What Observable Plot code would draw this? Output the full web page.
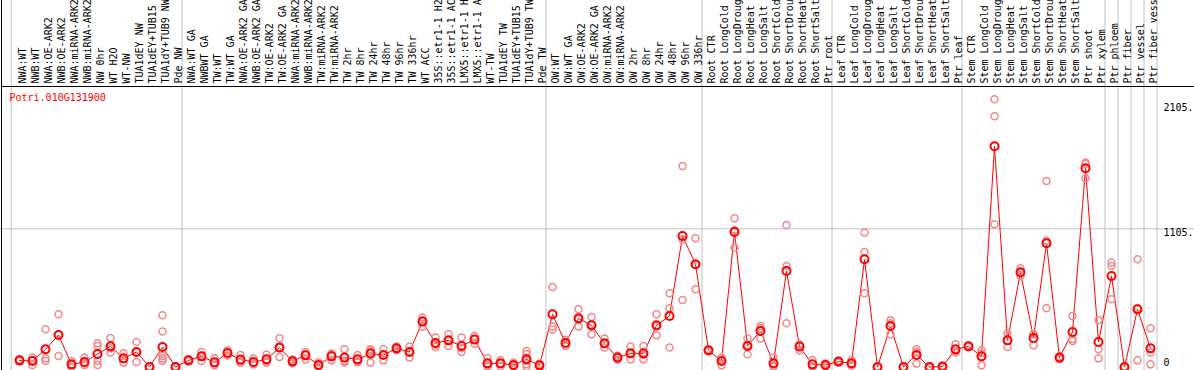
<!DOCTYPE html>
<html><head><meta charset="utf-8">
<script src="https://cdn.jsdelivr.net/npm/d3@7"></script>
<script src="https://cdn.jsdelivr.net/npm/@observablehq/plot@0.6"></script>
<style>body{margin:0;background:#fff} #chart svg{display:block}</style>
</head><body><div id="chart"></div>
<script>
const geneId = "Potri.010G131900";

const labels = [
  "NWA:WT","NWB:WT","NWA:OE-ARK2","NWB:OE-ARK2","NWA:miRNA-ARK2","NWB:miRNA-ARK2","NW 0hr","WT H2O","WT-NW","TUA1dEY NW","TUA1dEY+TUB15","TUA1dY+TUB9 NW","Pde NW",
  "NWA:WT GA","NWBWT GA","TW:WT","TW:WT GA","NWA:OE-ARK2 GA","NWB:OE-ARK2 GA","TW:OE-ARK2","TW:OE-ARK2 GA","NWA:miRNA-ARK2","NWB:miRNA-ARK2","TW:miRNA-ARK2","TW:miRNA-ARK2","TW 2hr","TW 8hr","TW 24hr","TW 48hr","TW 96hr","TW 336hr","WT ACC","35S::etr1-1 H2","35S::etr1-1 AC","LMX5::etr1-1 H","LMX5::etr1-1 A","WT-TW","TUA1dEY TW","TUA1dEY+TUB15","TUA1dY+TUB9 TW","Pde TW",
  "OW:WT","OW:WT GA","OW:OE-ARK2","OW:OE-ARK2 GA","OW:miRNA-ARK2","OW:miRNA-ARK2","OW 2hr","OW 8hr","OW 24hr","OW 48hr","OW 96hr","OW 336hr",
  "Root CTR","Root LongCold","Root LongDroug","Root LongHeat","Root LongSalt","Root ShortCold","Root ShortDrou","Root ShortHeat","Root ShortSalt","Ptr root",
  "Leaf CTR","Leaf LongCold","Leaf LongDroug","Leaf LongHeat","Leaf LongSalt","Leaf ShortCold","Leaf ShortDrou","Leaf ShortHeat","Leaf ShortSalt","Ptr leaf",
  "Stem CTR","Stem LongCold","Stem LongDroug","Stem LongHeat","Stem LongSalt","Stem ShortCold","Stem ShortDrou","Stem ShortHeat","Stem ShortSalt","Ptr shoot",
  "Ptr xylem","Ptr phloem","Ptr fiber","Ptr vessel","Ptr fiber vess"
];

const means = [
  53,48,141,256,21,40,104,165,69,120,0,160,0,
  53,85,37,112,59,40,61,155,45,93,16,85,75,61,107,96,149,120,363,192,213,168,219,29,29,16,61,13,
  421,192,389,333,189,75,109,109,333,408,1048,821,
  133,48,1080,168,288,29,768,163,21,16,
  43,29,861,0,328,0,96,0,3,141,
  165,85,1765,213,757,232,989,75,280,1589,
  200,728,0,461,149
];

const replicates = [
  [45,55,60],[75,53,16],[301,67,48],[421,259,88],[48,15,0],[75,30,16],[189,168,48,16],[232,150,115],[109,62,35],[200,120,40],[3,0,0],[413,283,115,88,67,48],[0,0,3],
  [60,53,45],[120,88,48],[69,30,13],[133,112,92],[96,48,35],[67,32,21],[99,50,35],[229,156,80],[60,45,30],[120,98,61],[35,10,3],[107,95,53],[141,48,36],[96,50,37],[141,133,120,35],[141,95,53],[163,149,135],[163,122,75],[395,373,321],[235,180,160],[261,210,168],[235,150,120],[248,225,185],[69,15,3],[56,25,6],[35,10,3],[128,101,55,21,0],[25,10,3],
  [640,323,300],[216,192,168],[461,383,323],[400,339,261],[227,185,155],[90,75,60],[163,103,61],[168,98,61],[421,325,253],[589,469,155],[1608,1021,536],[1029,813,621],
  [140,133,126],[75,56,13],[1189,1096,955],[227,176,101],[328,309,227],[75,10,3],[1136,808,349],[180,176,133],[56,5,2],[27,16,5],
  [50,43,36],[56,20,11],[1075,920,589],[0,0,0],[373,350,261],[0,0,0],[141,120,27],[0,0,0],[10,0,0],[181,127,115],
  [170,165,160],[133,109,13],[2141,2005,1141],[269,210,160],[789,754,728],[261,262,173],[1488,1010,469],[85,75,65],[408,224,208],[1635,1623,1509],
  [376,141,69],[835,808,541],[0,0,0],[861,469,53],[309,115,21]
];

// group boundaries, in column units
const separators = [-0.64, 12.5, 40.5, 52.5, 62.5, 72.5, 83.5, 84.5, 85.5, 86.5, 87.5];
const gridValues = [1105];
const tickValues = [0, 1105, 2105];
const tickLabels = ["0", "1105.", "2105."];

const meanData = means.map((v, i) => ({i, v}));
const repData = replicates.flatMap((arr, i) => arr.map(v => ({i, v})));
const ticks = tickValues.map((v, k) => ({v, t: tickLabels[k]}));

const plot = Plot.plot({
  width: 1194,
  height: 370,
  marginTop: 86,
  marginRight: 0,
  marginBottom: 0,
  marginLeft: 0,
  style: {fontFamily: "'DejaVu Sans Mono', monospace", fontSize: "10px", background: "white", overflow: "hidden"},
  x: {type: "linear", domain: [0, 87], range: [19, 1150], axis: null},
  y: {type: "linear", domain: [0, 1105], range: [366.5, 228.3], axis: null},
  marks: [
    Plot.ruleY(gridValues, {stroke: "#c0c0c0"}),
    Plot.ruleX(separators, {stroke: "#c0c0c0", insetTop: -86}),
    Plot.frame({stroke: "black", insetTop: -87, insetLeft: 1, insetRight: 0, insetBottom: 0}),
    Plot.frame({stroke: "black", insetTop: 0, insetLeft: 1, insetRight: 0, insetBottom: 0}),
    Plot.text(labels, {x: (d, i) => i, text: d => d, frameAnchor: "top", lineAnchor: "middle", rotate: -90, textAnchor: "start", dx: 3, dy: -3, fill: "black"}),
    Plot.line(meanData, {x: "i", y: "v", stroke: "red", strokeWidth: 1}),
    Plot.dot(repData, {x: "i", y: "v", r: 3.5, stroke: "#f08a8a", strokeWidth: 1.5, fill: "none"}),
    Plot.dot(meanData, {x: "i", y: "v", r: 4, stroke: "red", strokeWidth: 2, fill: "none"}),
    Plot.text(ticks.filter(d => d.v > 0), {y: "v", text: "t", frameAnchor: "right", lineAnchor: "middle", dx: -31, dy: 4, textAnchor: "start", fill: "black"}),
    Plot.text(ticks.filter(d => d.v === 0), {y: "v", text: "t", frameAnchor: "right", lineAnchor: "middle", dx: -31, dy: -4, textAnchor: "start", fill: "black"}),
    Plot.text([geneId], {text: d => d, frameAnchor: "top-left", lineAnchor: "middle", dx: 9, dy: 11, textAnchor: "start", fill: "red"})
  ]
});
document.getElementById("chart").appendChild(plot);
</script>
</body></html>
